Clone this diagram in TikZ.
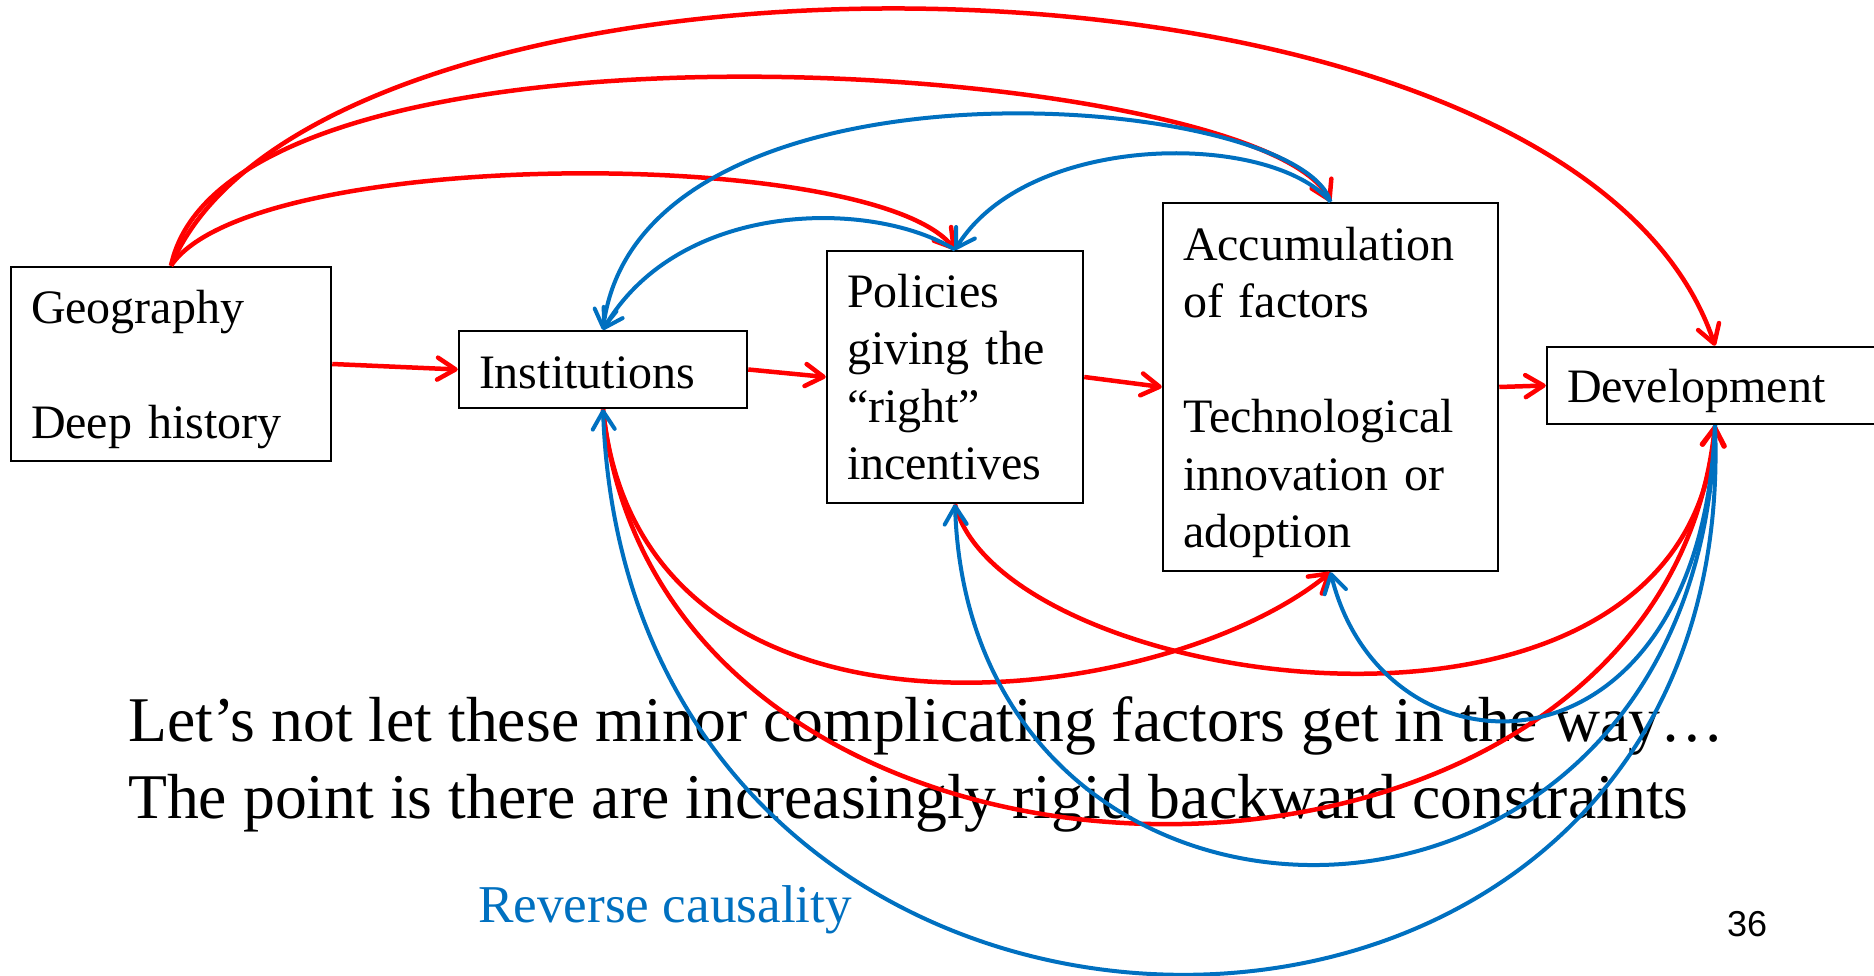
\documentclass[tikz,border=0pt]{standalone}
\usepackage{fontspec}
\setmainfont{Liberation Serif}
\newfontfamily\slidenum{Liberation Sans}
\usetikzlibrary{arrows.meta,positioning}
\definecolor{fwdred}{RGB}{255,0,0}
\definecolor{revblue}{RGB}{0,112,192}
\newcommand{\topline}[1][44pt]{\rule{0pt}{#1}}

\begin{document}
\begin{tikzpicture}[x=1pt, y=-1pt,
    factor/.style={draw, line width=2.5pt, align=left, inner xsep=20pt, inner ysep=0pt,
      font=\fontsize{48}{57.5}\selectfont},
    cause/.style={draw=fwdred, line width=4.5pt, -{Straight Barb[length=18pt,width=22pt,round]}},
    revcause/.style={cause, draw=revblue, line width=4pt},
    remark/.style={anchor=base west, inner sep=0pt, font=\fontsize{63.7}{77}\selectfont}]
    \clip (0,0) rectangle (1874,976);

    % Boites
    \node[factor, text width=280pt, minimum height=194pt] (geo) at (171,364) {\topline Geography\\[57.5pt]Deep history};
    \node[factor, text width=248pt, minimum height=77pt] (inst) at (603,369.5) {\topline[38pt]Institutions};
    \node[factor, text width=216pt, minimum height=252pt] (pol) at (955,377) {Policies\\giving the\\``right''\\incentives};
    \node[factor, text width=295pt, minimum height=368pt] (acc) at (1330.5,387) {\topline Accumulation\\of factors\\[57.5pt]Technological\\innovation or\\adoption};
    \node[factor, text width=296pt, minimum height=77pt] (dev) at (1715,385.5) {\topline Development};

    % Textes
    \node[remark] (remarka) at (128,741) {Let’s not let these minor complicating factors get in the way…};
    \node[remark] (remarkb) at ([yshift=-77pt]remarka.base west) {The point is there are increasingly rigid backward constraints};
    \node[remark, text=revblue, font=\fontsize{53.2}{64}\selectfont] (legend) at (478,922) {Reverse causality};
    \node[remark, font=\slidenum\fontsize{36}{43}\selectfont] (page) at (1727,936) {36};

    % Fleches droites
    \foreach \a/\b in {geo/inst, inst/pol, pol/acc, acc/dev}
        \draw[cause] (\a.east) -- (\b.west);

    % Arcs du haut
    \draw[cause] (geo.north) .. controls (320,-89) and (1569,-89) .. (dev.north);
    \draw[cause] (geo.north) .. controls (230,-10) and (1260,60) .. (acc.north);
    \draw[cause] (geo.north) .. controls (251,146) and (873,146) .. (pol.north);
    \draw[revcause] (acc.north) .. controls (1297,90) and (640,40) .. (inst.north);
    \draw[revcause] (acc.north) .. controls (1270,131) and (1028,131) .. (pol.north);
    \draw[revcause] (pol.north) .. controls (873,199) and (680,199) .. (inst.north);

    % Arcs du bas
    \draw[cause] (inst.south) .. controls (640,775) and (1160,712) .. (acc.south);
    \draw[cause] (pol.south) .. controls (1000,690) and (1690,795) .. (dev.south);
    \draw[cause] (inst.south) .. controls (660,959) and (1658,959) .. (dev.south);
    \draw[revcause] (dev.south) .. controls (1700,790) and (1384,790) .. (acc.south);
    \draw[revcause] (dev.south) .. controls (1700,997) and (971,997) .. (pol.south);
    \draw[revcause] (dev.south) .. controls (1744,1160) and (630,1160) .. (inst.south);
\end{tikzpicture}
\end{document}
